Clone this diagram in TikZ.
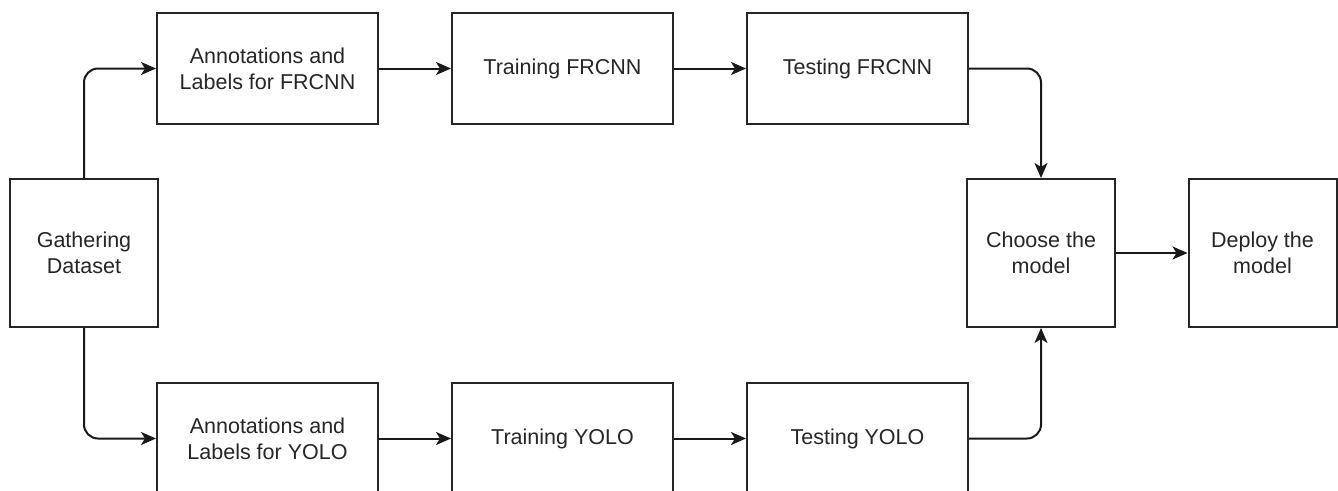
\documentclass[tikz,border=0pt]{standalone}
\usepackage{fontspec}
\setmainfont{Liberation Sans}
\usetikzlibrary{arrows.meta}
\begin{document}
\begin{tikzpicture}[x=1pt,y=-1pt,
  box/.style={draw=black!85, line width=2pt, fill=white, align=center,
    font=\fontsize{21.5}{26}\selectfont, inner sep=0pt, text=black!85},
  wide/.style={box, minimum width=221pt, minimum height=111pt},
  sq/.style={box, minimum width=148pt, minimum height=148pt},
  conn/.style={line width=2pt, draw=black!90,
    -{Stealth[length=15pt,width=13pt,inset=4pt]}, rounded corners=14pt}]
\useasboundingbox (0,0) rectangle (1338,490);
\clip (0,0) rectangle (1338,490);
\node[sq] (gd) at (84,253) {Gathering\\Dataset};
\node[wide] (af) at (267.5,68.5) {Annotations and\\Labels for FRCNN};
\node[wide] (tf) at (562.5,68.5) {Training FRCNN};
\node[wide] (sf) at (857.5,68.5) {Testing FRCNN};
\node[wide] (ay) at (267.5,438.5) {Annotations and\\Labels for YOLO};
\node[wide] (ty) at (562.5,438.5) {Training YOLO};
\node[wide] (sy) at (857.5,438.5) {Testing YOLO};
\node[sq] (ch) at (1041,253) {Choose the\\model};
\node[sq] (dp) at (1262.5,253) {Deploy the\\model};
\draw[conn] (gd.north) |- (af.west);
\draw[conn] (gd.south) |- (ay.west);
\draw[conn] (af) -- (tf);
\draw[conn] (tf) -- (sf);
\draw[conn] (ay) -- (ty);
\draw[conn] (ty) -- (sy);
\draw[conn] (sf.east) -| (ch.north);
\draw[conn] (sy.east) -| (ch.south);
\draw[conn] (ch) -- (dp);
\end{tikzpicture}
\end{document}
